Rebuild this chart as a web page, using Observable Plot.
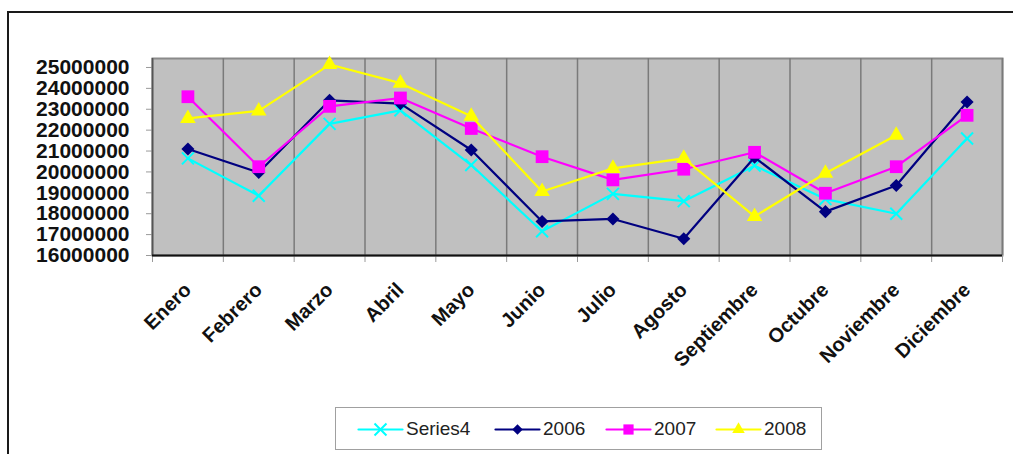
<!DOCTYPE html>
<html>
<head>
<meta charset="utf-8">
<script src="https://cdn.jsdelivr.net/npm/d3@7"></script>
<script src="https://cdn.jsdelivr.net/npm/@observablehq/plot@0.6"></script>
<style>
  html, body { margin: 0; padding: 0; background: #fff; }
  #wrap { position: relative; width: 1013px; height: 454px; overflow: hidden; font-family: "Liberation Sans", Arial, sans-serif; }
  #frame { position: absolute; left: 7px; top: 11px; width: 1200px; height: 600px; border: 2px solid #1a1a1a; box-sizing: border-box; }
  #chart { position: absolute; left: 0; top: 0; }
  #legend { position: absolute; left: 335px; top: 407px; width: 487px; height: 43px; border: 1px solid #a0a0a0; box-sizing: border-box; background: #fff;
            display: flex; align-items: center; font-size: 19px; color: #222; }
  .item { display: flex; align-items: center; position: absolute; top: 0; height: 41px; }
  .item svg { display: block; }
  .item span { margin-left: 4px; }
</style>
</head>
<body>
<div id="wrap">
  <div id="frame"></div>
  <div id="chart"></div>
  <div id="legend"></div>
</div>
<script>
const months = ["Enero","Febrero","Marzo","Abril","Mayo","Junio","Julio","Agosto","Septiembre","Octubre","Noviembre","Diciembre"];
const series4 = [20650000,18860000,22300000,22950000,20330000,17160000,18950000,18600000,20300000,18700000,18000000,21600000];
const y2006  = [21100000,19970000,23430000,23270000,21050000,17630000,17750000,16800000,20700000,18100000,19350000,23350000];
const y2007  = [23600000,20250000,23140000,23540000,22080000,20730000,19620000,20130000,20940000,18980000,20250000,22710000];
const y2008  = [22560000,22920000,25140000,24250000,22670000,19060000,20170000,20650000,17870000,19940000,21760000,null];
const seriesNames = ["Series4","2006","2007","2008"];
const seriesValues = [series4, y2006, y2007, y2008];
const colors = ["#00FFFF","#000080","#FF00FF","#FFFF00"];
const symbols = ["times","diamond2","square","triangle"];
const symbolR = [5.5, 5.9, 7.2, 5.8];
const yTicks = [16000000,17000000,18000000,19000000,20000000,21000000,22000000,23000000,24000000,25000000];

const idx = months.map((m, i) => i);
const boundaries = [-0.5, ...idx.map(i => i + 0.5)];

const marks = [
  Plot.frame({fill: "#c0c0c0", stroke: "#8a8a8a", strokeWidth: 2}),
  Plot.ruleX(boundaries, {stroke: "#7a7a7a", strokeWidth: 1.5}),
  Plot.axisY(yTicks, {tickSize: 6, tickPadding: 17, stroke: "#9a9a9a", fill: "#111", fontSize: 21, fontWeight: "bold",
    tickFormat: d => d3.format("d")(d), label: null}),
  Plot.axisX(boundaries, {tickSize: 7, tickFormat: () => "", stroke: "#9a9a9a", label: null}),
  Plot.axisX(idx, {tickSize: 0, tickPadding: 31, tickRotate: -45, fontSize: 20, fontWeight: "bold", fill: "#111",
    tickFormat: i => months[i], label: null}),
  Plot.ruleX([-0.5], {stroke: "#555", strokeWidth: 1.5}),
  Plot.ruleY([16000000], {stroke: "#111", strokeWidth: 2})
];

seriesValues.forEach((vals, k) => {
  const rows = vals.map((v, i) => ({i, v})).filter(d => d.v != null);
  marks.push(Plot.line(rows, {x: "i", y: "v", stroke: colors[k], strokeWidth: 2.2}));
  if (symbols[k] === "times") {
    marks.push(Plot.dot(rows, {x: "i", y: "v", symbol: symbols[k], r: symbolR[k], stroke: colors[k], strokeWidth: 2, fill: "none"}));
  } else {
    marks.push(Plot.dot(rows, {x: "i", y: "v", symbol: symbols[k], r: symbolR[k], fill: colors[k], stroke: "none"}));
  }
});

const chart = Plot.plot({
  width: 1013,
  height: 400,
  marginLeft: 152,
  marginRight: 11,
  marginTop: 58,
  marginBottom: 145,
  style: {fontFamily: "'Liberation Sans', Arial, sans-serif", background: "transparent", overflow: "visible"},
  x: {type: "linear", domain: [-0.5, 11.5], axis: null},
  y: {domain: [16000000, 25430000], axis: null},
  marks
});
document.getElementById("chart").appendChild(chart);

// Legend
const legend = document.getElementById("legend");
const itemLeft = [22, 159, 270, 380];
seriesNames.forEach((name, k) => {
  const item = document.createElement("div");
  item.className = "item";
  item.style.left = itemLeft[k] + "px";
  const sw = Plot.plot({
    width: 44, height: 20, margin: 0,
    x: {domain: [0, 2], axis: null}, y: {domain: [0, 1], axis: null},
    style: {background: "transparent", overflow: "visible"},
    marks: [
      Plot.line([{x: 0, y: 0.5}, {x: 2, y: 0.5}], {x: "x", y: "y", stroke: colors[k], strokeWidth: 2.2}),
      symbols[k] === "times"
        ? Plot.dot([{x: 1, y: 0.5}], {x: "x", y: "y", symbol: symbols[k], r: symbolR[k], stroke: colors[k], strokeWidth: 2, fill: "none"})
        : Plot.dot([{x: 1, y: 0.5}], {x: "x", y: "y", symbol: symbols[k], r: symbolR[k] * 0.8, fill: colors[k], stroke: "none"})
    ]
  });
  item.appendChild(sw);
  const t = document.createElement("span");
  t.textContent = name;
  item.appendChild(t);
  legend.appendChild(item);
});
</script>
</body>
</html>
